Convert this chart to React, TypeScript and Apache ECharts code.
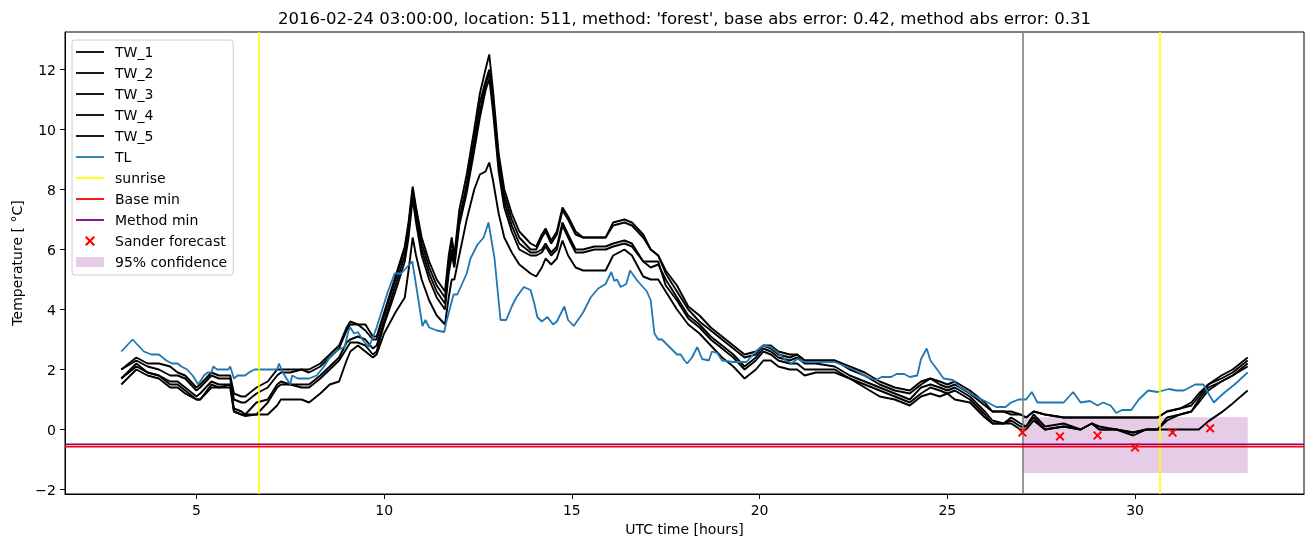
import React, { useEffect, useRef } from "react";
import * as echarts from "echarts";

const TITLE = "2016-02-24 03:00:00, location: 511, method: 'forest', base abs error: 0.42, method abs error: 0.31";
const X_TICKS = [5, 10, 15, 20, 25, 30];
const Y_TICKS = [-2, 0, 2, 4, 6, 8, 10, 12];

const TW_HOURS = [3.0, 3.4, 3.7, 4.0, 4.3, 4.5, 4.7, 5.0, 5.1, 5.4, 5.6, 5.9, 6.0, 6.2, 6.3, 6.6, 6.9, 7.15, 7.25, 7.5, 7.8, 8.0, 8.3, 8.55, 8.8, 9.0, 9.1, 9.3, 9.5, 9.7, 9.8, 10.0, 10.3, 10.55, 10.65, 10.76, 10.85, 11.0, 11.2, 11.4, 11.62, 11.72, 11.8, 11.87, 12.0, 12.2, 12.4, 12.55, 12.7, 12.8, 12.9, 13.05, 13.2, 13.4, 13.6, 13.9, 14.05, 14.2, 14.3, 14.45, 14.6, 14.75, 14.9, 15.1, 15.3, 15.6, 15.9, 16.1, 16.4, 16.6, 16.9, 17.1, 17.3, 17.5, 17.8, 18.1, 18.4, 18.7, 19.0, 19.3, 19.6, 19.9, 20.1, 20.3, 20.5, 20.8, 21.0, 21.2, 21.5, 22.0, 22.4, 22.8, 23.2, 23.6, 24.0, 24.3, 24.55, 24.8, 25.0, 25.2, 25.6, 26.0, 26.2, 26.5, 26.7, 26.95, 27.1, 27.3, 27.6, 28.1, 28.55, 28.85, 29.05, 29.5, 29.95, 30.3, 30.6, 30.85, 31.2, 31.5, 31.7, 31.95, 32.3, 32.6, 33.0];
const TW_1 = [2.0, 2.4, 2.2, 2.2, 2.1, 1.9, 1.8, 1.4, 1.5, 1.9, 1.8, 1.8, 1.2, 1.1, 1.1, 1.4, 1.6, 2.0, 2.0, 2.0, 2.0, 2.0, 2.2, 2.5, 2.8, 3.4, 3.6, 3.5, 3.5, 3.1, 3.1, 3.9, 5.1, 6.1, 6.9, 8.1, 7.4, 6.4, 5.6, 5.0, 4.6, 5.8, 6.4, 5.8, 7.3, 8.5, 10.0, 11.2, 12.0, 12.5, 11.3, 9.2, 8.0, 7.2, 6.6, 6.2, 6.1, 6.5, 6.7, 6.3, 6.6, 7.4, 7.1, 6.6, 6.4, 6.4, 6.4, 6.9, 7.0, 6.9, 6.5, 6.0, 5.8, 5.3, 4.8, 4.1, 3.8, 3.4, 3.1, 2.8, 2.5, 2.6, 2.8, 2.8, 2.6, 2.5, 2.5, 2.3, 2.3, 2.3, 2.1, 1.9, 1.6, 1.4, 1.3, 1.6, 1.7, 1.6, 1.5, 1.6, 1.3, 0.9, 0.6, 0.6, 0.6, 0.5, 0.4, 0.6, 0.5, 0.4, 0.4, 0.4, 0.4, 0.4, 0.4, 0.4, 0.4, 0.6, 0.7, 0.9, 1.2, 1.5, 1.8, 2.0, 2.4];
const TW_2 = [2.0, 2.3, 2.1, 2.0, 1.8, 1.8, 1.7, 1.3, 1.4, 1.8, 1.7, 1.7, 1.0, 0.9, 0.9, 1.2, 1.4, 1.8, 1.9, 1.9, 2.0, 1.9, 2.1, 2.4, 2.7, 3.3, 3.5, 3.5, 3.3, 3.0, 3.0, 3.8, 5.0, 6.0, 6.8, 8.0, 7.3, 6.2, 5.4, 4.8, 4.4, 5.6, 6.3, 5.7, 7.0, 8.2, 9.7, 10.9, 11.6, 12.0, 11.0, 9.0, 7.8, 7.0, 6.4, 6.0, 6.0, 6.4, 6.6, 6.2, 6.5, 7.3, 7.0, 6.5, 6.4, 6.4, 6.4, 6.8, 6.9, 6.8, 6.4, 6.0, 5.8, 5.2, 4.6, 4.0, 3.6, 3.3, 3.0, 2.7, 2.4, 2.5, 2.8, 2.7, 2.5, 2.4, 2.5, 2.3, 2.3, 2.3, 2.0, 1.8, 1.5, 1.3, 1.2, 1.5, 1.7, 1.5, 1.4, 1.5, 1.2, 0.8, 0.6, 0.6, 0.5, 0.5, 0.4, 0.6, 0.5, 0.4, 0.4, 0.4, 0.4, 0.4, 0.4, 0.4, 0.4, 0.6, 0.7, 0.8, 1.1, 1.5, 1.7, 1.9, 2.3];
const TW_3 = [1.7, 2.2, 1.9, 1.8, 1.6, 1.6, 1.4, 1.1, 1.2, 1.6, 1.5, 1.5, 0.7, 0.6, 0.5, 0.9, 1.0, 1.5, 1.6, 1.5, 1.5, 1.5, 1.8, 2.1, 2.4, 2.9, 3.0, 3.1, 3.0, 2.7, 2.8, 3.6, 4.8, 5.8, 6.6, 7.9, 7.1, 6.0, 5.2, 4.6, 4.2, 5.4, 6.0, 5.5, 6.9, 8.0, 9.5, 10.6, 11.5, 11.9, 10.8, 8.8, 7.6, 6.8, 6.2, 5.9, 5.9, 6.0, 6.2, 5.9, 6.1, 6.9, 6.5, 6.0, 6.0, 6.1, 6.1, 6.2, 6.3, 6.2, 5.6, 5.4, 5.5, 5.0, 4.4, 3.8, 3.5, 3.1, 2.8, 2.5, 2.1, 2.4, 2.7, 2.6, 2.4, 2.3, 2.4, 2.2, 2.2, 2.1, 1.8, 1.6, 1.4, 1.2, 1.0, 1.4, 1.5, 1.4, 1.3, 1.4, 1.1, 0.6, 0.3, 0.2, 0.4, 0.2, 0.1, 0.5, 0.1, 0.2, 0.0, 0.2, 0.1, 0.0, -0.1, 0.0, 0.0, 0.4, 0.5, 0.6, 1.0, 1.4, 1.6, 1.8, 2.2];
const TW_4 = [1.7, 2.1, 1.9, 1.8, 1.5, 1.5, 1.3, 1.0, 1.0, 1.5, 1.4, 1.5, 0.6, 0.5, 0.5, 0.5, 0.9, 1.4, 1.5, 1.5, 1.4, 1.4, 1.7, 2.0, 2.3, 2.7, 2.9, 2.9, 2.8, 2.5, 2.6, 3.5, 4.6, 5.6, 6.4, 7.7, 6.9, 5.8, 5.0, 4.4, 4.0, 5.2, 5.8, 5.4, 6.8, 7.9, 9.3, 10.4, 11.3, 11.7, 10.6, 8.6, 7.4, 6.6, 6.0, 5.8, 5.8, 5.9, 6.1, 5.8, 6.0, 6.8, 6.4, 5.9, 5.9, 6.0, 6.0, 6.1, 6.2, 6.1, 5.6, 5.6, 5.6, 4.8, 4.3, 3.7, 3.4, 3.0, 2.7, 2.4, 2.0, 2.3, 2.6, 2.5, 2.3, 2.2, 2.2, 2.0, 2.0, 2.0, 1.7, 1.5, 1.3, 1.1, 0.9, 1.2, 1.4, 1.3, 1.2, 1.3, 1.0, 0.5, 0.2, 0.2, 0.3, 0.1, 0.1, 0.4, 0.0, 0.1, 0.0, 0.2, 0.0, 0.0, -0.1, 0.0, 0.0, 0.3, 0.5, 0.6, 0.9, 1.3, 1.6, 1.8, 2.1];
const TW_5 = [1.5, 2.0, 1.8, 1.7, 1.4, 1.4, 1.2, 1.0, 1.0, 1.4, 1.4, 1.4, 0.6, 0.5, 0.45, 0.5, 0.5, 0.8, 1.0, 1.0, 1.0, 0.9, 1.2, 1.5, 1.6, 2.3, 2.6, 2.8, 2.6, 2.4, 2.5, 3.2, 3.9, 4.4, 5.3, 6.4, 5.8, 5.0, 4.3, 3.8, 3.5, 4.4, 5.0, 5.0, 5.8, 7.0, 8.0, 8.5, 8.6, 8.9, 8.3, 7.2, 6.4, 5.9, 5.5, 5.2, 5.1, 5.4, 5.7, 5.5, 5.7, 6.3, 5.8, 5.4, 5.3, 5.3, 5.3, 5.8, 6.0, 5.8, 5.1, 5.0, 5.0, 4.6, 4.0, 3.5, 3.2, 2.8, 2.4, 2.1, 1.7, 2.0, 2.3, 2.3, 2.1, 2.0, 2.0, 1.8, 1.9, 1.9, 1.7, 1.4, 1.1, 1.0, 0.8, 1.1, 1.2, 1.1, 1.2, 1.0, 0.9, 0.4, 0.2, 0.2, 0.2, 0.0, 0.0, 0.3, 0.0, 0.1, 0.0, 0.2, 0.0, 0.0, -0.2, 0.0, 0.0, 0.0, 0.0, 0.0, 0.0, 0.27, 0.57, 0.87, 1.3];

const TL_POINTS: [number, number][] = [[3.0, 2.6], [3.3, 3.0], [3.45, 2.8], [3.6, 2.6], [3.8, 2.5], [4.0, 2.5], [4.1, 2.4], [4.2, 2.3], [4.35, 2.2], [4.5, 2.2], [4.6, 2.1], [4.75, 2.0], [4.9, 1.8], [5.0, 1.6], [5.05, 1.5], [5.2, 1.8], [5.3, 1.9], [5.4, 1.9], [5.45, 2.1], [5.55, 2.0], [5.85, 2.0], [5.9, 2.1], [6.0, 1.7], [6.1, 1.8], [6.3, 1.8], [6.4, 1.9], [6.55, 2.0], [7.15, 2.0], [7.2, 2.2], [7.3, 1.9], [7.5, 1.5], [7.55, 1.8], [7.7, 1.7], [8.0, 1.7], [8.2, 1.8], [8.4, 2.1], [8.55, 2.4], [8.7, 2.6], [8.85, 2.7], [8.95, 2.75], [9.05, 3.3], [9.1, 3.4], [9.2, 3.2], [9.3, 3.25], [9.45, 2.95], [9.6, 2.75], [9.8, 3.4], [9.95, 4.0], [10.1, 4.6], [10.28, 5.2], [10.45, 5.2], [10.75, 5.6], [10.89, 4.5], [11.02, 3.45], [11.1, 3.65], [11.2, 3.4], [11.4, 3.3], [11.6, 3.25], [11.66, 3.6], [11.85, 4.5], [11.95, 4.5], [12.2, 5.2], [12.3, 5.7], [12.48, 6.15], [12.65, 6.4], [12.78, 6.9], [12.94, 5.7], [13.1, 3.65], [13.25, 3.65], [13.4, 4.1], [13.52, 4.4], [13.72, 4.75], [13.9, 4.65], [14.0, 4.2], [14.08, 3.75], [14.2, 3.6], [14.35, 3.75], [14.5, 3.5], [14.6, 3.6], [14.8, 4.1], [14.9, 3.65], [15.05, 3.45], [15.3, 3.9], [15.5, 4.4], [15.7, 4.7], [15.9, 4.85], [16.05, 5.25], [16.13, 4.95], [16.2, 5.0], [16.3, 4.75], [16.45, 4.85], [16.55, 5.3], [16.75, 4.95], [17.0, 4.6], [17.1, 4.3], [17.2, 3.2], [17.3, 3.0], [17.4, 3.0], [17.6, 2.75], [17.72, 2.6], [17.8, 2.5], [17.9, 2.5], [18.0, 2.3], [18.07, 2.2], [18.2, 2.4], [18.34, 2.75], [18.47, 2.35], [18.65, 2.3], [18.73, 2.6], [18.87, 2.55], [19.0, 2.3], [19.3, 2.25], [19.65, 2.25], [19.9, 2.6], [20.1, 2.8], [20.3, 2.75], [20.5, 2.55], [20.7, 2.3], [20.85, 2.2], [21.0, 2.35], [21.2, 2.25], [22.0, 2.25], [22.3, 2.1], [22.5, 2.0], [22.65, 1.9], [22.85, 1.75], [23.1, 1.65], [23.25, 1.75], [23.5, 1.75], [23.65, 1.85], [23.85, 1.85], [24.0, 1.75], [24.2, 1.8], [24.3, 2.35], [24.45, 2.7], [24.55, 2.3], [24.7, 2.05], [24.9, 1.7], [25.15, 1.65], [25.3, 1.45], [25.5, 1.3], [25.75, 1.1], [26.0, 0.95], [26.3, 0.75], [26.55, 0.75], [26.7, 0.9], [26.9, 1.0], [27.1, 1.0], [27.25, 1.25], [27.4, 0.9], [27.55, 0.9], [28.1, 0.9], [28.35, 1.25], [28.55, 0.9], [28.8, 0.95], [29.0, 0.8], [29.15, 0.9], [29.35, 0.8], [29.5, 0.55], [29.65, 0.65], [29.9, 0.65], [30.1, 1.0], [30.35, 1.3], [30.6, 1.25], [30.9, 1.35], [31.1, 1.3], [31.3, 1.3], [31.6, 1.5], [31.82, 1.5], [31.93, 1.25], [32.1, 0.9], [32.22, 1.05], [32.4, 1.25], [32.65, 1.5], [33.0, 1.9]];

const SUNRISE_HOURS = [6.65, 30.65];
const FORECAST_START = 27;
const BASE_MIN = -0.57;
const METHOD_MIN = -0.49;
const SANDER_HOURS = [27, 28, 29, 30, 31, 32];
const SANDER_VALUES = [-0.1, -0.23, -0.2, -0.6, -0.1, 0.04];
const CONF_RANGE = { x0: 27, x1: 33, low: -1.45, high: 0.41 };
const X_MIN = 1.5;
const X_MAX = 34.5;
const Y_MIN = -2.15;
const Y_MAX = 13.25;

const FONT = "DejaVu Sans";
const X_MARK = "path://M1.5,0 L5,3.5 L8.5,0 L10,1.5 L6.5,5 L10,8.5 L8.5,10 L5,6.5 L1.5,10 L0,8.5 L3.5,5 L0,1.5 Z";
const LINE_ICON = "path://M0,0H28V1.8H0Z";
const CONF_COLOR = "rgba(128,0,128,0.2)";

const zip = (xs: number[], ys: number[]) => xs.map((x, i) => [x, ys[i]]);
const fmtY = (v: number) => (v < 0 ? "\u2212" + Math.abs(v) : String(v));
const lineLegend = (name: string, color: string) => ({ name, icon: LINE_ICON, itemStyle: { color } });

export default function App() {
  const ref = useRef<HTMLDivElement>(null);
  useEffect(() => {
    if (!ref.current) return;
    const chart = echarts.init(ref.current, null, { renderer: "svg" });
    const twSeries = [TW_1, TW_2, TW_3, TW_4, TW_5].map((vals, i) => ({
      name: "TW_" + (i + 1),
      type: "line",
      data: zip(TW_HOURS, vals),
      showSymbol: false,
      symbol: "none",
      lineStyle: { color: "#000000", width: 1.9 },
      itemStyle: { color: "#000000" },
      z: 3,
    }));
    const hline = (name: string, value: number, color: string) => ({
      name,
      type: "line",
      data: [[X_MIN, value], [X_MAX, value]],
      symbol: "none",
      lineStyle: { color, width: 1.6 },
      itemStyle: { color },
      z: 5,
    });
    chart.setOption({
      animation: false,
      textStyle: { fontFamily: FONT },
      grid: { left: 65, right: 9, top: 32, bottom: 53, show: true, borderColor: "#000", borderWidth: 1, backgroundColor: "transparent" },
      graphic: [
        {
          type: "text",
          x: 684.5,
          y: 18,
          style: { text: TITLE, font: `16.5px '${FONT}'`, fill: "#000", textAlign: "center", textVerticalAlign: "middle" },
        },
      ],
      legend: {
        orient: "vertical",
        left: 72,
        top: 40,
        itemWidth: 28,
        itemHeight: 10,
        itemGap: 7,
        padding: [5, 6, 6, 4],
        backgroundColor: "rgba(255,255,255,0.8)",
        borderColor: "#cccccc",
        borderWidth: 1,
        borderRadius: 3,
        textStyle: { fontFamily: FONT, fontSize: 14, color: "#000", padding: [0, 0, 0, 6] },
        data: [
          lineLegend("TW_1", "#000000"),
          lineLegend("TW_2", "#000000"),
          lineLegend("TW_3", "#000000"),
          lineLegend("TW_4", "#000000"),
          lineLegend("TW_5", "#000000"),
          lineLegend("TL", "#1f77b4"),
          lineLegend("sunrise", "#ffff00"),
          lineLegend("Base min", "#ff0000"),
          lineLegend("Method min", "#800080"),
          { name: "Sander forecast", icon: X_MARK, itemStyle: { color: "#ff0000" } },
          { name: "95% confidence", icon: "rect", itemStyle: { color: CONF_COLOR } },
        ],
      },
      xAxis: {
        type: "value",
        min: X_MIN,
        max: X_MAX,
        name: "UTC time [hours]",
        nameLocation: "middle",
        nameGap: 28,
        nameTextStyle: { fontFamily: FONT, fontSize: 14, color: "#000" },
        axisLine: { show: true, onZero: false, lineStyle: { color: "#000" } },
        axisTick: { show: true, inside: false, length: 5, lineStyle: { color: "#000" }, customValues: X_TICKS },
        axisLabel: { fontFamily: FONT, fontSize: 14, color: "#000", margin: 9, customValues: X_TICKS },
        splitLine: { show: false },
      },
      yAxis: {
        type: "value",
        min: Y_MIN,
        max: Y_MAX,
        name: "Temperature [ °C]",
        nameLocation: "middle",
        nameGap: 40,
        nameTextStyle: { fontFamily: FONT, fontSize: 14, color: "#000" },
        axisLine: { show: true, onZero: false, lineStyle: { color: "#000" } },
        axisTick: { show: true, inside: false, length: 5, lineStyle: { color: "#000" }, customValues: Y_TICKS },
        axisLabel: { fontFamily: FONT, fontSize: 14, color: "#000", margin: 9, customValues: Y_TICKS, formatter: (v: number) => fmtY(v) },
        splitLine: { show: false },
      },
      series: [
        {
          name: "95% confidence",
          type: "line",
          data: [],
          symbol: "none",
          itemStyle: { color: CONF_COLOR },
          z: 1,
          markArea: {
            silent: true,
            itemStyle: { color: CONF_COLOR },
            data: [[{ coord: [CONF_RANGE.x0, CONF_RANGE.high] }, { coord: [CONF_RANGE.x1, CONF_RANGE.low] }]],
          },
        },
        ...twSeries,
        {
          name: "TL",
          type: "line",
          data: TL_POINTS,
          symbol: "none",
          lineStyle: { color: "#1f77b4", width: 1.8 },
          itemStyle: { color: "#1f77b4" },
          z: 4,
        },
        {
          name: "sunrise",
          type: "line",
          data: [],
          symbol: "none",
          lineStyle: { color: "#ffff00", width: 1.6 },
          itemStyle: { color: "#ffff00" },
          z: 5,
          markLine: {
            silent: true,
            symbol: ["none", "none"],
            label: { show: false },
            lineStyle: { color: "#ffff00", width: 1.6, type: "solid" },
            data: SUNRISE_HOURS.map((h) => ({ xAxis: h })),
          },
        },
        {
          name: "forecast start",
          type: "line",
          data: [],
          symbol: "none",
          z: 5,
          markLine: {
            silent: true,
            symbol: ["none", "none"],
            label: { show: false },
            lineStyle: { color: "#808080", width: 1.6, type: "solid" },
            data: [{ xAxis: FORECAST_START }],
          },
        },
        hline("Base min", BASE_MIN, "#ff0000"),
        hline("Method min", METHOD_MIN, "#800080"),
        {
          name: "Sander forecast",
          type: "scatter",
          data: zip(SANDER_HOURS, SANDER_VALUES),
          symbol: X_MARK,
          symbolSize: 9,
          itemStyle: { color: "#ff0000", opacity: 1 },
          z: 6,
        },
      ],
    });
    return () => chart.dispose();
  }, []);
  return <div ref={ref} style={{ position: "fixed", left: 0, top: 0, width: 1313, height: 547 }} />;
}
